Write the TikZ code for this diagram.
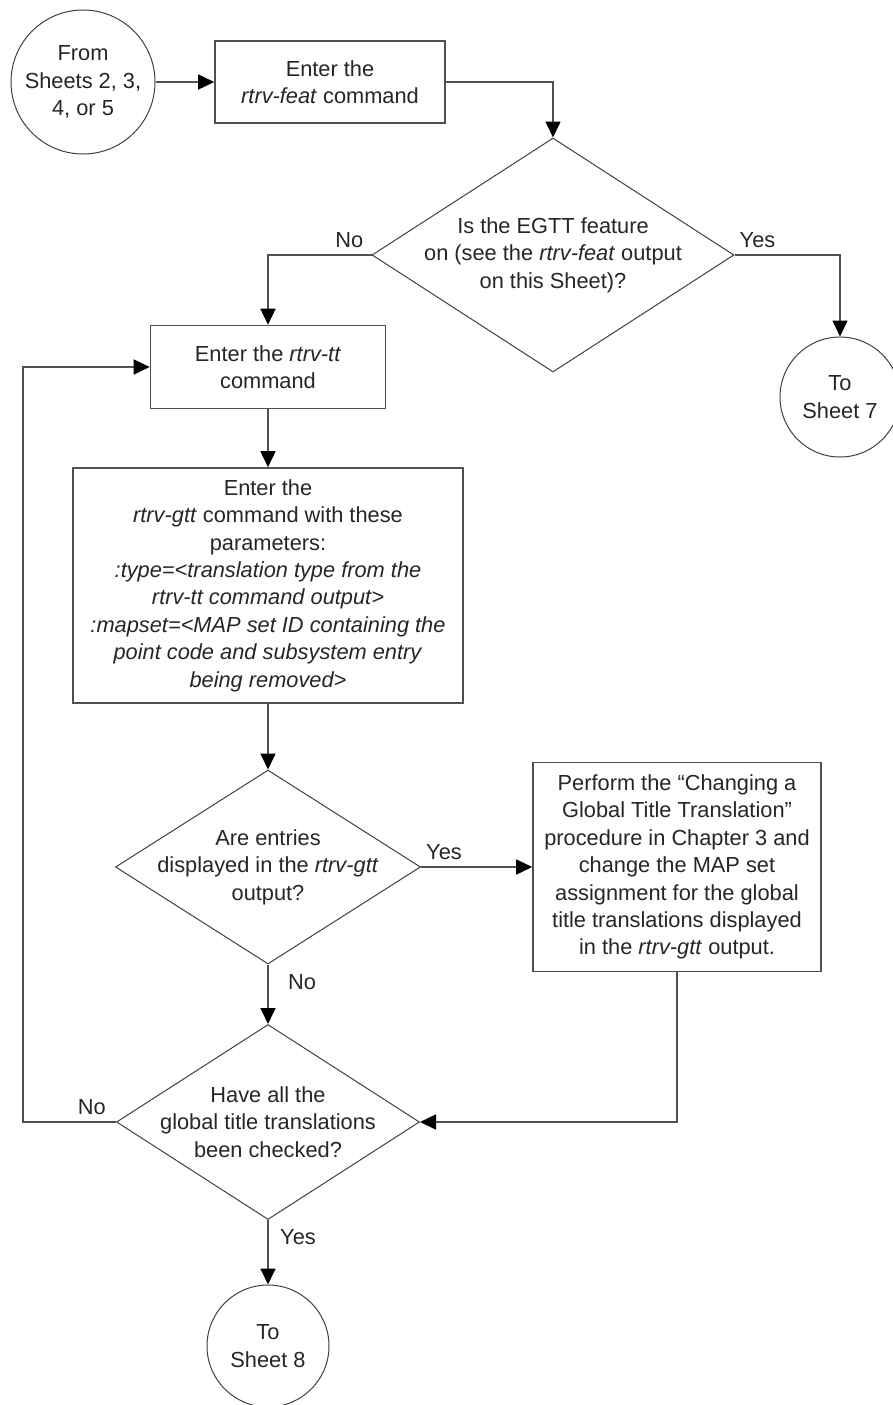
\documentclass[tikz,border=0pt]{standalone}
\usepackage{fontspec}
\setmainfont{Liberation Sans}
\usetikzlibrary{arrows.meta, positioning, shapes.geometric}
\definecolor{linegray}{RGB}{80,80,80}
\definecolor{textgray}{RGB}{38,38,38}

\begin{document}
\begin{tikzpicture}[
    x=1pt, y=-1pt,
    font=\fontsize{21.8}{27.4}\selectfont,
    text=textgray,
    stepbox/.style  ={rectangle, draw=linegray, line width=1.6pt, fill=white,
                      inner sep=0pt, align=center},
    decision/.style ={diamond, draw=black!75, line width=1pt, fill=white,
                      inner sep=-30pt, align=center},
    sheet/.style    ={circle, draw=black!75, line width=1pt, fill=white,
                      inner sep=0pt, align=center},
    lbl/.style      ={inner sep=0pt},
    flow/.style     ={-{Triangle[length=16pt, width=15pt, black]}, line width=1.6pt,
                      linegray},
  ]

  \useasboundingbox (0,0) rectangle (892,1405);

  % ---- top row: entry point and rtrv-feat ----
  \node[sheet, minimum size=144pt] (from) at (83,82) {From\\Sheets 2, 3,\\4, or 5};
  \node[stepbox, minimum width=230pt, minimum height=82pt] (feat) at (330,82)
    {Enter the\\\textit{rtrv-feat} command};

  % ---- EGTT feature check ----
  \node[decision, minimum width=362pt, minimum height=234pt] (egtt) at (553,255)
    {Is the EGTT feature\\on (see the \textit{rtrv-feat} output\\on this Sheet)?};
  \node[sheet, minimum size=120pt] (sheet7) at (840,397) {To\\Sheet 7};

  % ---- main column ----
  \node[stepbox, minimum width=235pt, minimum height=83pt] (rtrvtt) at (268,367)
    {Enter the \textit{rtrv-tt}\\command};
  \node[stepbox, minimum width=390pt, minimum height=235pt] (rtrvgtt) at (268,585.5)
    {Enter the\\\textit{rtrv-gtt} command with these\\parameters:\\
     \textit{:type=<translation type from the}\\
     \textit{rtrv-tt command output>}\\
     \textit{:mapset=<MAP set ID containing the}\\
     \textit{point code and subsystem entry}\\
     \textit{being removed>}};
  \node[decision, minimum width=305pt, minimum height=194pt] (entries) at (268,867)
    {Are entries\\displayed in the \textit{rtrv-gtt}\\output?};
  \node[stepbox, minimum width=288pt, minimum height=209pt] (changegtt) at (677,867)
    {Perform the “Changing a\\Global Title Translation”\\procedure in Chapter 3 and\\
     change the MAP set\\assignment for the global\\title translations displayed\\
     in the \textit{rtrv-gtt} output.};
  \node[decision, minimum width=303pt, minimum height=195pt] (checked) at (268,1122)
    {Have all the\\global title translations\\been checked?};
  \node[sheet, minimum size=122pt] (sheet8) at (268,1346) {To\\Sheet 8};
  \coordinate (loopback) at (23,1122);

  % ---- connectors ----
  \draw[flow] (from) -- (feat);
  \draw[flow] (feat.east) -| (egtt.north);
  \draw[flow] (egtt.west) -| (rtrvtt.north);
  \draw[flow] (egtt.east) -| (sheet7.north);
  \draw[flow] (rtrvtt) -- (rtrvgtt);
  \draw[flow] (rtrvgtt) -- (entries);
  \draw[flow] (entries) -- (changegtt);
  \draw[flow] (entries) -- (checked);
  \draw[flow] (changegtt.south) |- (checked.east);
  \draw[flow] (checked.west) -- (loopback) |- (rtrvtt.west);
  \draw[flow] (checked) -- (sheet8);

  % ---- branch labels ----
  \node[lbl, above left=7pt and 8pt of egtt.west]      (noegtt)     {No};
  \node[lbl, above right=7pt and 5pt of egtt.east]     (yesegtt)    {Yes};
  \node[lbl, above right=7pt and 5pt of entries.east]  (yesentries) {Yes};
  \node[lbl, below right=10pt and 20pt of entries.south] (noentries) {No};
  \node[lbl, above left=7pt and 10pt of checked.west]  (nochecked)  {No};
  \node[lbl, below right=9pt and 12pt of checked.south] (yeschecked) {Yes};

\end{tikzpicture}
\end{document}
